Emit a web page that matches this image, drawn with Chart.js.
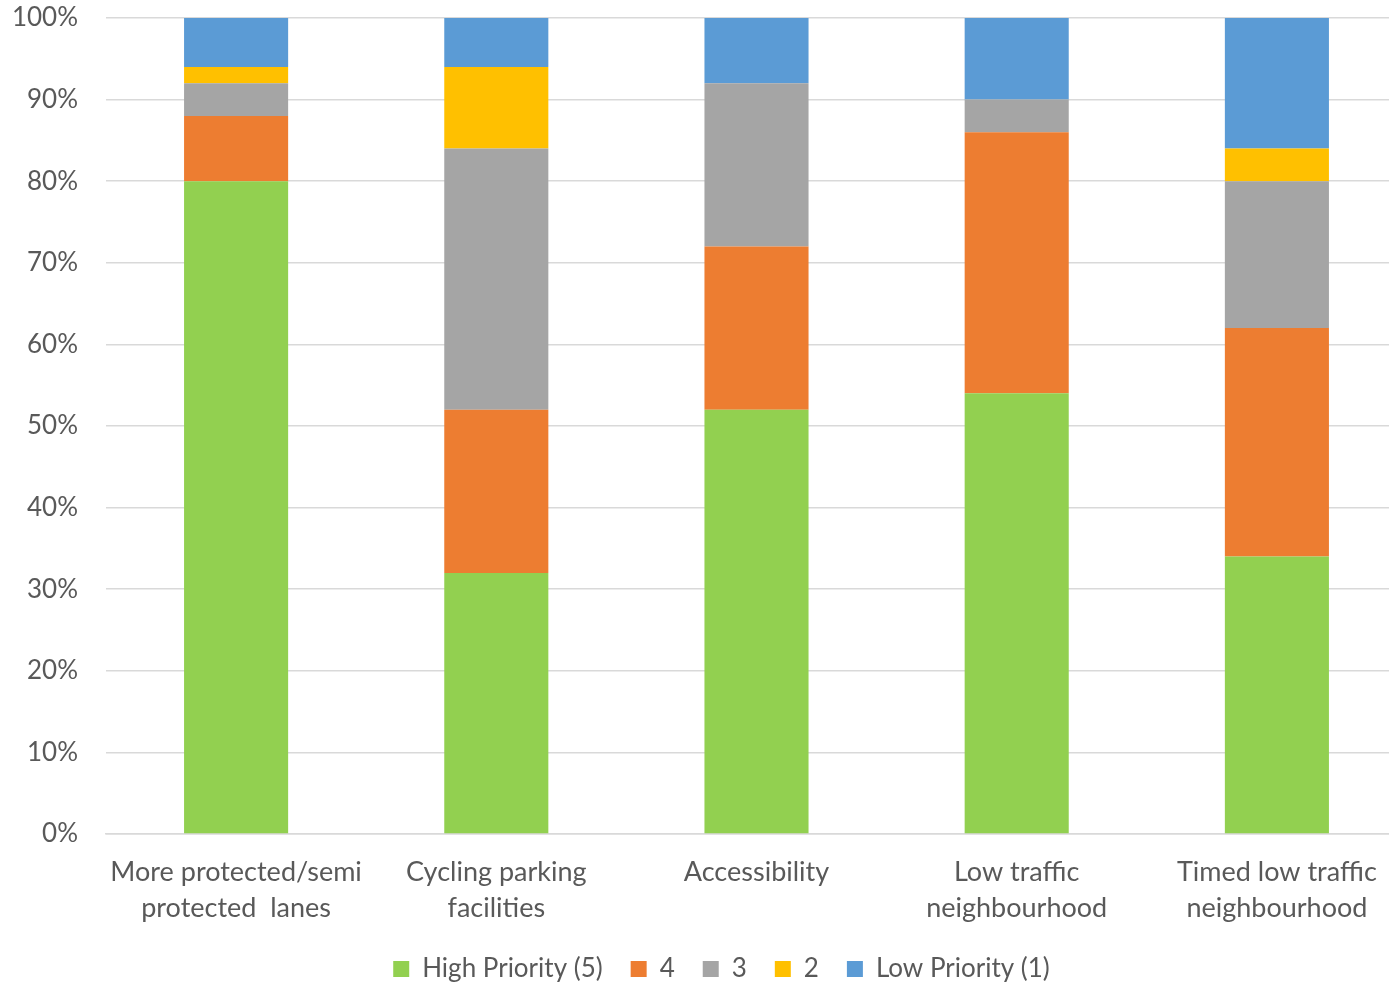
<!DOCTYPE html>
<html>
<head>
<meta charset="utf-8">
<script src="https://cdn.jsdelivr.net/npm/chart.js@4.4.1/dist/chart.umd.min.js"></script>
<style>
  html, body { margin: 0; padding: 0; background: #ffffff; overflow: hidden; }
  #wrap { width: 1389px; height: 982px; overflow: hidden; position: relative; }
  #inner { width: 1407px; height: 982px; position: relative; }
</style>
</head>
<body>
<div id="wrap"><div id="inner"><canvas id="chart"></canvas></div></div>
<script>
// Chart data (percent of respondents)
const categories = [
  ['More protected/semi', 'protected  lanes'],
  ['Cycling parking', 'facilities'],
  'Accessibility',
  ['Low traffic', 'neighbourhood'],
  ['Timed low traffic', 'neighbourhood']
];
const seriesNames = ['High Priority (5)', '4', '3', '2', 'Low Priority (1)'];
const high = [80, 32, 52, 54, 34];
const four = [8, 20, 20, 32, 28];
const three = [4, 32, 20, 4, 18];
const two = [2, 10, 0, 0, 4];
const low = [6, 6, 8, 10, 16];
const yTicks = [0, 10, 20, 30, 40, 50, 60, 70, 80, 90, 100];

const colors = ['#92D050', '#ED7D31', '#A5A5A5', '#FFC000', '#5B9BD5'];
const FONT = "Lato, 'Open Sans', sans-serif";
const TEXT = '#595959';

// nudge the legend to the right, like the original sheet
const legendShift = {
  id: 'legendShift',
  afterLayout(chart) {
    chart.legend.left += 18;
    chart.legend.right += 18;
  }
};

const ctx = document.getElementById('chart').getContext('2d');

new Chart(ctx, {
  type: 'bar',
  data: {
    labels: categories,
    datasets: [high, four, three, two, low].map((d, i) => ({
      label: seriesNames[i],
      data: d,
      backgroundColor: colors[i],
      borderWidth: 0,
      barPercentage: 0.4,
      categoryPercentage: 1
    }))
  },
  plugins: [legendShift],
  options: {
    responsive: true,
    maintainAspectRatio: false,
    animation: false,
    layout: { padding: { top: 18, right: 0, bottom: -10, left: 0 } },
    scales: {
      x: {
        stacked: true,
        afterFit: (scale) => { scale.height = 94; },
        grid: { display: false, drawTicks: false },
        border: { display: true, color: '#D9D9D9', width: 1.5 },
        ticks: {
          color: TEXT,
          font: { family: FONT, size: 27, lineHeight: 1.33 },
          padding: 20,
          maxRotation: 0,
          autoSkip: false
        }
      },
      y: {
        stacked: true,
        min: 0,
        max: 100,
        afterFit: (scale) => { scale.width = 106; scale.paddingTop = 0; scale.paddingBottom = 0; },
        afterBuildTicks: (scale) => { scale.ticks = yTicks.map(v => ({ value: v })); },
        grid: { color: '#D9D9D9', lineWidth: 1.5, drawTicks: false },
        border: { display: false },
        ticks: {
          color: TEXT,
          font: { family: FONT, size: 26 },
          padding: 28,
          callback: (v) => v + '%'
        }
      }
    },
    plugins: {
      legend: {
        position: 'bottom',
        labels: {
          color: TEXT,
          font: { family: FONT, size: 26 },
          boxWidth: 16,
          boxHeight: 16,
          padding: 28,
          useBorderRadius: false
        }
      },
      tooltip: { enabled: false }
    }
  }
});
</script>
</body>
</html>
